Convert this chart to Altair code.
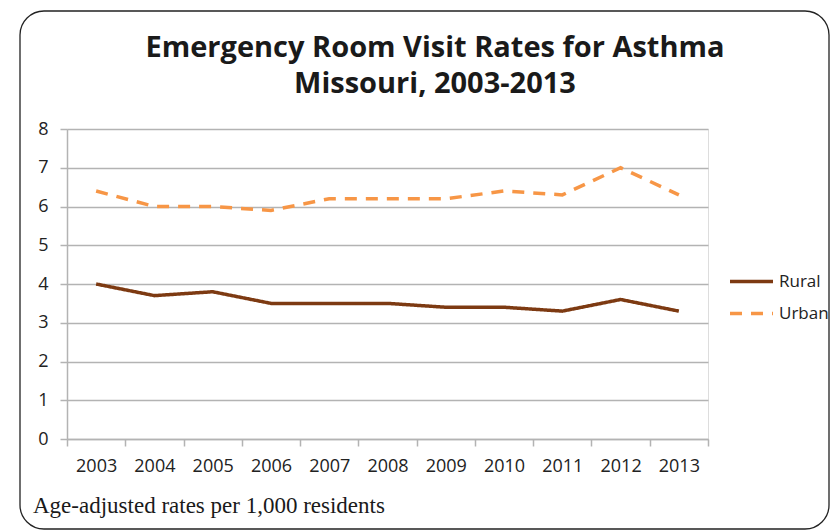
import altair as alt
import pandas as pd

years = ["2003", "2004", "2005", "2006", "2007", "2008", "2009", "2010", "2011", "2012", "2013"]
rural = [4.0, 3.7, 3.8, 3.5, 3.5, 3.5, 3.4, 3.4, 3.3, 3.6, 3.3]
urban = [6.4, 6.0, 6.0, 5.9, 6.2, 6.2, 6.2, 6.4, 6.3, 7.0, 6.3]
series = ["Rural", "Urban"]
colors = ["#7d3a12", "#f79646"]
title_lines = ["Emergency Room Visit Rates for Asthma", "Missouri, 2003-2013"]
footnote = "Age-adjusted rates per 1,000 residents"

rows = []
for name, vals in zip(series, [rural, urban]):
    for y, v in zip(years, vals):
        rows.append({"year": y, "series": name, "value": v})
df = pd.DataFrame(rows)

W, H = 641, 310
grid = "#b3b3b3"

leg = alt.Legend(orient="none", legendX=661, legendY=129, title=None,
                 symbolType="stroke", symbolSize=1849,
                 symbolStrokeWidth=3.5, labelFont="Open Sans",
                 labelFontSize=17, labelColor="#222", labelOffset=4,
                 rowPadding=-7, padding=0, labelLimit=200)

lines = alt.Chart(df).mark_line(strokeWidth=3.5).encode(
    x=alt.X("year:O", bandPosition=0.5, sort=years,
            scale=alt.Scale(type="band", paddingInner=0, paddingOuter=0),
            axis=alt.Axis(title=None, labelAngle=0, tickBand="extent", tickSize=7,
                          tickColor=grid, domainColor=grid, domainWidth=1.5, tickWidth=1.5,
                          labelFont="Open Sans", labelFontSize=18, labelColor="#222",
                          labelPadding=11, grid=False)),
    y=alt.Y("value:Q", scale=alt.Scale(domain=[0, 8], nice=False),
            axis=alt.Axis(title=None, values=list(range(9)), tickSize=7, tickColor=grid,
                          domainColor=grid, domainWidth=1.5, tickWidth=1.5,
                          gridColor=grid, gridWidth=1.5,
                          labelFont="Open Sans", labelFontSize=18, labelColor="#222",
                          labelPadding=12)),
    color=alt.Color("series:N", scale=alt.Scale(domain=series, range=colors), legend=leg),
    strokeDash=alt.StrokeDash("series:N", scale=alt.Scale(domain=series, range=[[1, 0], [12, 9]]),
                              legend=leg),
)

one = alt.Data(values=[{}])

frame = alt.Chart(one).mark_rect(filled=False, stroke="#222", strokeWidth=1.3, cornerRadius=24).encode(
    x=alt.value(-47), x2=alt.value(762), y=alt.value(-118), y2=alt.value(400)
)

title = alt.Chart(one).mark_text(font="Open Sans", fontWeight="bold", fontSize=29,
                                 lineHeight=36, align="center", baseline="alphabetic",
                                 color="#1a1a1a").encode(
    x=alt.value(368), y=alt.value(-72), text=alt.value(title_lines)
)

foot = alt.Chart(one).mark_text(font="Liberation Serif", fontSize=23, align="left",
                                baseline="alphabetic", color="#1a1a1a").encode(
    x=alt.value(-34), y=alt.value(384), text=alt.value(footnote)
)

chart = alt.layer(frame, lines, title, foot).properties(
    width=W, height=H, autosize=alt.AutoSizeParams(type="none"),
    padding={"left": 59, "top": 121, "right": 122, "bottom": 91}
).configure_view(stroke=None).configure(background="white")

chart.save("out.html", embed_options={"renderer": "svg", "actions": False})
